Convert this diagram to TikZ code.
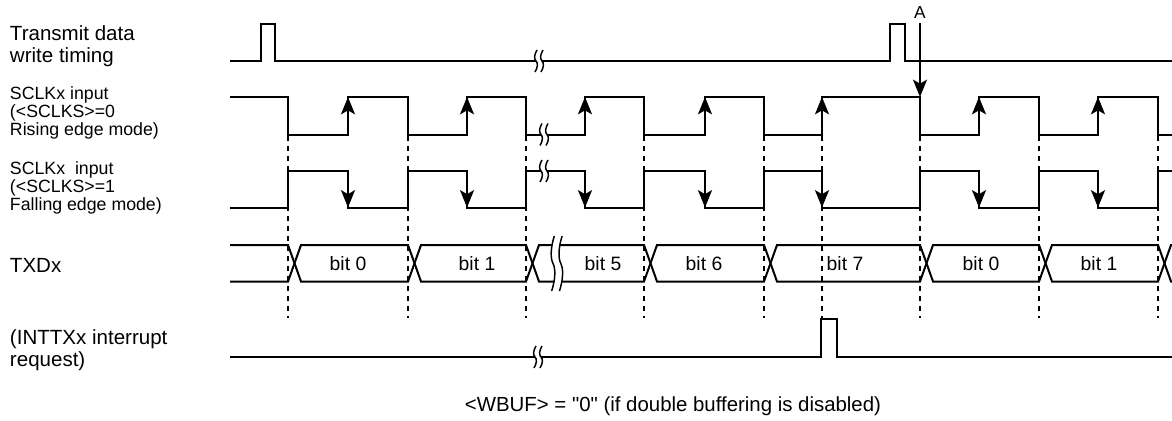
\documentclass[tikz,border=0pt]{standalone}
\usepackage{fontspec}
\setmainfont{Liberation Sans}[Ligatures=TeXOff]
\usetikzlibrary{arrows.meta, positioning}

\tikzset{
  brkmark/.pic = {
    \fill[white] (1,-11) .. controls (-2,-6) and (-2,-2) .. (0,0)
                 .. controls (2,2) and (2,6) .. (-1,11) -- (5,11)
                 .. controls (8,6) and (8,2) .. (6,0)
                 .. controls (4,-2) and (4,-6) .. (7,-11) -- cycle;
    \draw[brk] (1,-11) .. controls (-2,-6) and (-2,-2) .. (0,0)
               .. controls (2,2) and (2,6) .. (-1,11);
    \draw[brk] (7,-11) .. controls (4,-6) and (4,-2) .. (6,0)
               .. controls (8,2) and (8,6) .. (5,11);
  }
}

\begin{document}
\begin{tikzpicture}[
  x = 0.75pt, y = -0.75pt,
  every node/.style = {inner sep=0pt, outer sep=0pt},
  rowlbl/.style  = {anchor=base west, align=left, font=\fontsize{15.4}{16.3}\selectfont},
  modelbl/.style = {anchor=base west, align=left, font=\fontsize{13.3}{10.9}\selectfont},
  bitlbl/.style  = {anchor=base, font=\fontsize{14.5}{16}\selectfont},
  wave/.style    = {line width=1.5pt},
  guide/.style   = {line width=1pt, dash pattern=on 4pt off 3.5pt},
  edgearr/.style = {-{Stealth[length=13pt, width=10.5pt, inset=3pt]}, line width=1.5pt},
  brk/.style     = {line width=1.1pt}
]
\useasboundingbox (0,0) rectangle (1172,421);

\node[rowlbl]  (tx_write)  at (10,62)    {Transmit data\\write timing};
\node[modelbl] (sclk_rise) at (10,135)   {SCLKx input\\(<SCLKS>=0\\Rising edge mode)};
\node[modelbl] (sclk_fall) at (10,210.7) {SCLKx\ \ input\\(<SCLKS>=1\\Falling edge mode)};
\node[rowlbl]  (txd)       at (10,272.5) {TXDx};
\node[rowlbl]  (inttx)     at (10,366.7) {(INTTXx interrupt\\request)};
\node[anchor=base, font=\fontsize{15.3}{17}\selectfont]
  (wbuf) at (673,411.5) {<WBUF> = "0" (if double buffering is disabled)};

\foreach \x in {288,408,526,644,764,822,920,1039,1158}
  \draw[guide] (\x,136) -- (\x,318);

\draw[wave] (230,61) -- (261,61) -- (261,24) -- (275,24) -- (275,61)
  -- (890,61) -- (890,24) -- (905,24) -- (905,61) -- (1172,61);

\draw[wave] (230,97) -| (288,134.5) -| (348,97) -| (408,134.5) -| (467,97)
  -| (526,134.5) -| (585,97) -| (644,134.5) -| (705,97) -| (764,134.5)
  -| (822,97) -| (920,134.5) -| (979,97) -| (1039,134.5) -| (1098,97)
  -| (1158,134.5) -- (1172,134.5);
\draw[wave] (230,207.5) -| (288,171) -| (348,207.5) -| (408,171) -| (467,207.5)
  -| (526,171) -| (585,207.5) -| (644,171) -| (705,207.5) -| (764,171)
  -| (822,207.5) -| (920,171) -| (979,207.5) -| (1039,171) -| (1098,207.5)
  -| (1158,171) -- (1172,171);
\foreach \x in {348,467,585,705,822,979,1098} {
  \draw[edgearr] (\x,134.5) -- (\x,97);
  \draw[edgearr] (\x,171) -- (\x,207.5);
}

\draw[wave] (230,245) -- (288,245) -- (301,281.5) -- (408,281.5) -- (421,245)
  -- (526,245) -- (539,281.5) -- (644,281.5) -- (657,245) -- (764,245)
  -- (777,281.5) -- (920,281.5) -- (933,245) -- (1039,245) -- (1052,281.5)
  -- (1158,281.5) -- (1171,245) -- (1172,245);
\draw[wave] (230,281.5) -- (288,281.5) -- (301,245) -- (408,245) -- (421,281.5)
  -- (526,281.5) -- (539,245) -- (644,245) -- (657,281.5) -- (764,281.5)
  -- (777,245) -- (920,245) -- (933,281.5) -- (1039,281.5) -- (1052,245)
  -- (1158,245) -- (1171,281.5) -- (1172,281.5);

\draw[wave] (230,357) -- (821,357) -- (821,318.5) -- (837,318.5) -- (837,357) -- (1172,357);

\pic at (536,61) {brkmark};
\pic at (541,134.5) {brkmark};
\pic at (541,171) {brkmark};
\pic at (535,357) {brkmark};
\pic[xscale=1.3, yscale=2.5] at (553,263.5) {brkmark};

\node[bitlbl] (bit_0a) at (348,270) {bit 0};
\node[bitlbl] (bit_1a) at (477,270) {bit 1};
\node[bitlbl] (bit_5)  at (603,270) {bit 5};
\node[bitlbl] (bit_6)  at (704,270) {bit 6};
\node[bitlbl] (bit_7)  at (845,270) {bit 7};
\node[bitlbl] (bit_0b) at (981,270) {bit 0};
\node[bitlbl] (bit_1b) at (1099,270) {bit 1};

\node[anchor=base, font=\fontsize{13}{14}\selectfont] (mark_a) at (920,18) {A};
\coordinate (a_tip) at (920,97);
\draw[edgearr] ([yshift=-3.75pt]mark_a.south) -- (a_tip);
\end{tikzpicture}
\end{document}
